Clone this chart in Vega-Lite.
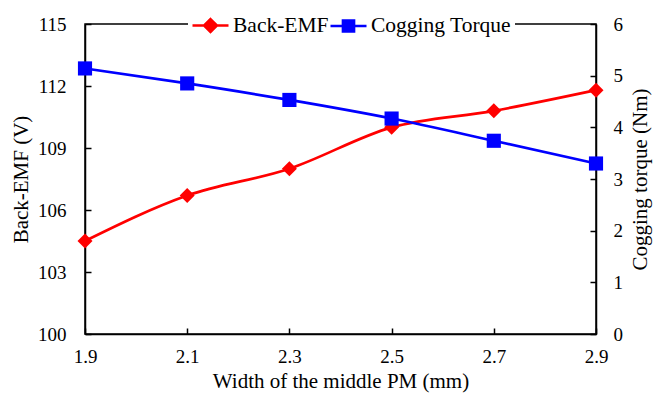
{
  "$schema": "https://vega.github.io/schema/vega-lite/v6.json",
  "width": 511,
  "height": 310,
  "autosize": "none",
  "padding": {"left": 85, "top": 24, "right": 58, "bottom": 60},
  "background": "white",
  "config": {
    "font": "Liberation Serif",
    "view": {"stroke": "black", "strokeWidth": 1.5},
    "axis": {
      "grid": false,
      "domainColor": "black",
      "domainWidth": 1.5,
      "tickColor": "black",
      "tickWidth": 1.5,
      "tickSize": -6,
      "labelFlush": false,
      "labelFont": "Liberation Serif",
      "labelFontSize": 19,
      "labelColor": "black",
      "titleFont": "Liberation Serif",
      "titleFontSize": 21,
      "titleFontWeight": "normal",
      "titleColor": "black"
    }
  },
  "data": {
    "values": [
      {"w": 1.9, "series": "Back-EMF", "value": 104.5},
      {"w": 2.1, "series": "Back-EMF", "value": 106.7},
      {"w": 2.3, "series": "Back-EMF", "value": 108.0},
      {"w": 2.5, "series": "Back-EMF", "value": 110.0},
      {"w": 2.7, "series": "Back-EMF", "value": 110.8},
      {"w": 2.9, "series": "Back-EMF", "value": 111.8},
      {"w": 1.9, "series": "Cogging Torque", "value": 5.14},
      {"w": 2.1, "series": "Cogging Torque", "value": 4.85},
      {"w": 2.3, "series": "Cogging Torque", "value": 4.53},
      {"w": 2.5, "series": "Cogging Torque", "value": 4.17},
      {"w": 2.7, "series": "Cogging Torque", "value": 3.74},
      {"w": 2.9, "series": "Cogging Torque", "value": 3.3}
    ]
  },
  "encoding": {
    "x": {
      "field": "w",
      "type": "quantitative",
      "scale": {"domain": [1.9, 2.9], "nice": false, "zero": false},
      "axis": {
        "values": [1.9, 2.1, 2.3, 2.5, 2.7, 2.9],
        "format": ".1f",
        "title": "Width of the middle PM (mm)",
        "labelPadding": 19,
        "titlePadding": 4
      }
    },
    "color": {
      "field": "series",
      "type": "nominal",
      "scale": {"domain": ["Back-EMF", "Cogging Torque"], "range": ["#FF0000", "#0000FF"]},
      "legend": {
        "title": null,
        "orient": "none",
        "direction": "horizontal",
        "legendX": 103,
        "legendY": -21,
        "padding": 3,
        "fillColor": "white",
        "strokeColor": null,
        "labelFont": "Liberation Serif",
        "labelFontSize": 21.5,
        "labelColor": "black",
        "labelOffset": 3,
        "columnPadding": -9,
        "symbolSize": 1296,
        "encode": {
          "symbols": {
            "update": {
              "shape": {"signal": "datum.value === 'Back-EMF' ? 'M-1,0H1M0,-0.36L0.36,0L0,0.36L-0.36,0Z' : 'M-1,0H1M-0.31,-0.31H0.31V0.31H-0.31Z'"},
              "fill": {"signal": "datum.value === 'Back-EMF' ? '#FF0000' : '#0000FF'"},
              "stroke": {"signal": "datum.value === 'Back-EMF' ? '#FF0000' : '#0000FF'"},
              "strokeWidth": {"value": 2.5},
              "size": {"value": 1296},
              "opacity": {"value": 1}
            }
          }
        }
      }
    }
  },
  "layer": [
    {
      "transform": [{"filter": "datum.series === 'Back-EMF'"}],
      "encoding": {
        "y": {
          "field": "value",
          "type": "quantitative",
          "scale": {"domain": [100, 115], "nice": false, "zero": false},
          "axis": {
            "orient": "left",
            "values": [100, 103, 106, 109, 112, 115],
            "title": "Back-EMF (V)",
            "labelPadding": 25,
            "titlePadding": 6
          }
        }
      },
      "layer": [
        {"mark": {"type": "line", "interpolate": "monotone", "strokeWidth": 2.7}},
        {"mark": {"type": "point", "shape": "diamond", "filled": true, "size": 225, "opacity": 1}}
      ]
    },
    {
      "transform": [{"filter": "datum.series === 'Cogging Torque'"}],
      "encoding": {
        "y": {
          "field": "value",
          "type": "quantitative",
          "scale": {"domain": [0, 6], "nice": false, "zero": false},
          "axis": {
            "orient": "right",
            "values": [0, 1, 2, 3, 4, 5, 6],
            "title": "Cogging torque (Nm)",
            "titleAngle": 270,
            "labelPadding": 23,
            "titlePadding": 28
          }
        }
      },
      "layer": [
        {"mark": {"type": "line", "interpolate": "monotone", "strokeWidth": 2.7}},
        {"mark": {"type": "point", "shape": "square", "filled": true, "size": 200, "opacity": 1}}
      ]
    }
  ],
  "resolve": {"scale": {"y": "independent"}}
}
